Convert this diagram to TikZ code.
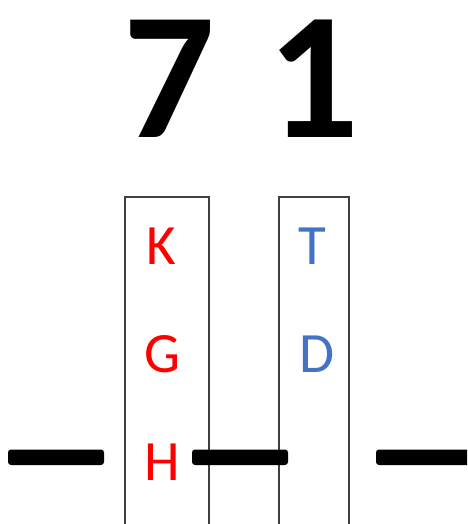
\documentclass[tikz,border=0pt]{standalone}
\usepackage{fontspec}
\setmainfont{Carlito}
\definecolor{kred}{HTML}{FF0000}
\definecolor{kblue}{HTML}{4472C4}
\definecolor{boxgray}{HTML}{404040}
\begin{document}
\begin{tikzpicture}[x=1pt,y=-1pt,
  digit/.style={anchor=base,inner sep=0pt,font=\fontsize{181}{181}\selectfont\bfseries},
  letter/.style={anchor=base,inner sep=0pt,font=\fontsize{57}{57}\selectfont},
  column/.style={draw=boxgray,line width=1.3pt},
  bar/.style={fill=black,rounded corners=3pt}]
\useasboundingbox (0,0) rectangle (467,524);
\clip (0,0) rectangle (467,524);
\node[digit] (seven) at (169,137) {7};
\node[digit] (one) at (313,137) {1};
\draw[column] (125,540) -- (125,197) -- (209,197) -- (209,540);
\draw[column] (279,540) -- (279,197) -- (349,197) -- (349,540);
\node[letter,text=kred] (K) at (161,264) {K};
\node[letter,text=kred] (G) at (162,372) {G};
\node[letter,text=kred] (H) at (162,480) {H};
\node[letter,text=kblue] (T) at (312,264) {T};
\node[letter,text=kblue] (D) at (317,372) {D};
\fill[bar] (8,449.5) rectangle (104,465);
\fill[bar] (192,449.5) rectangle (288,465);
\fill[bar] (376,449.5) rectangle (480,465);
\end{tikzpicture}
\end{document}
